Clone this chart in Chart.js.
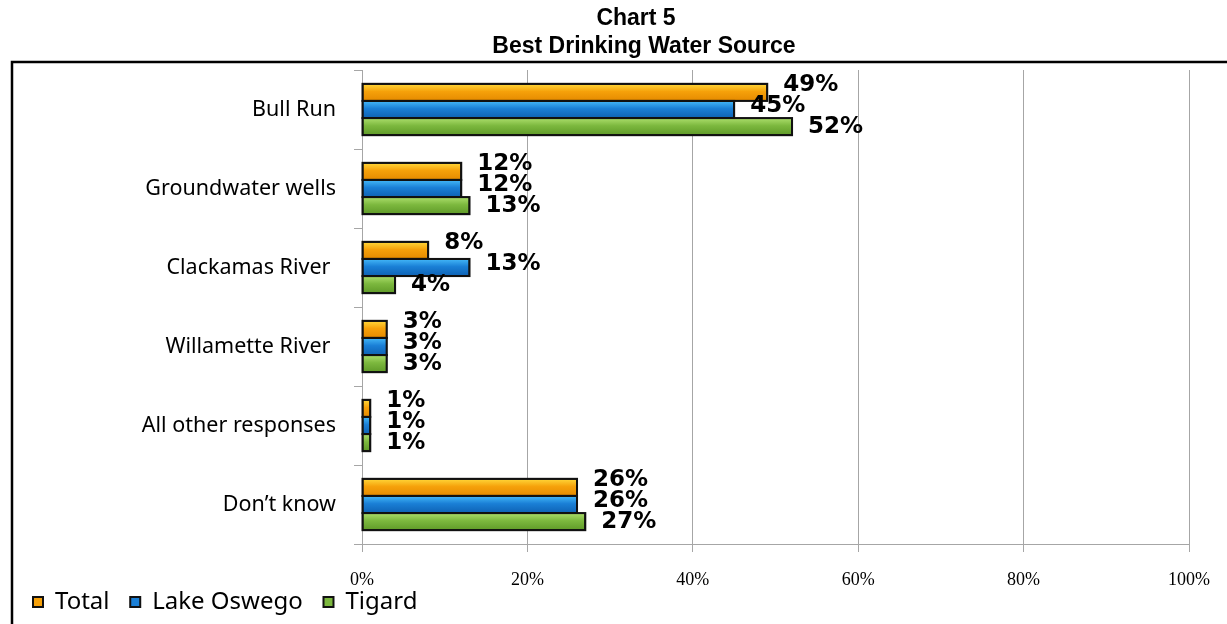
<!DOCTYPE html>
<html>
<head>
<meta charset="utf-8">
<script src="https://cdn.jsdelivr.net/npm/chart.js@4.4.0/dist/chart.umd.min.js"></script>
<style>
  body { margin: 0; background: #fff; }
  canvas { display: block; }
</style>
</head>
<body>
<canvas id="waterChart" width="1227" height="624"></canvas>
<script>
const categories = ["Bull Run", "Groundwater wells", "Clackamas River ", "Willamette River ", "All other responses", "Don\u2019t know"];
const seriesNames = ["Total", "Lake Oswego", "Tigard"];
const totalValues = [49, 12, 8, 3, 1, 26];
const lakeOswegoValues = [45, 12, 13, 3, 1, 26];
const tigardValues = [52, 13, 4, 3, 1, 27];
const xTicks = [0, 20, 40, 60, 80, 100];
const titleLines = ["Chart 5", "Best Drinking Water Source"];

// base colour, light top, dark bottom
const shades = [
  ["#f6a10a", "#ffd83a", "#e58a00"],
  ["#1a7fd6", "#44b8f8", "#0e62b4"],
  ["#7cb83e", "#acde6c", "#5f9a28"]
];

const frameAndTitle = {
  id: "frameAndTitle",
  beforeDraw(chart) {
    const ctx = chart.ctx;
    ctx.save();
    ctx.fillStyle = "#fff";
    ctx.fillRect(0, 0, chart.width, chart.height);
    ctx.fillStyle = "#000";
    ctx.font = 'bold 23px "Liberation Sans", Arial, sans-serif';
    ctx.textAlign = "center";
    ctx.textBaseline = "middle";
    ctx.fillText(titleLines[0], 636, 19);
    ctx.fillText(titleLines[1], 644, 47);
    ctx.lineWidth = 2.5;
    ctx.strokeStyle = "#000";
    ctx.strokeRect(12, 62, 1400, 800);
    ctx.restore();
  }
};

const barStyle = {
  id: "barStyle",
  beforeDatasetsDraw(chart) {
    const ctx = chart.ctx;
    ctx.save();
    ctx.shadowColor = "rgba(0,0,0,0.4)";
    ctx.shadowOffsetX = 3;
    ctx.shadowOffsetY = 5;
    ctx.shadowBlur = 6;
  },
  afterDatasetsDraw(chart) {
    const ctx = chart.ctx;
    ctx.restore();
    ctx.save();
    chart.data.datasets.forEach((ds, di) => {
      const meta = chart.getDatasetMeta(di);
      meta.data.forEach((bar, i) => {
        const p = bar.getProps(["x", "y", "base", "height"], true);
        const top = p.y - p.height / 2;
        const g = ctx.createLinearGradient(0, top, 0, top + p.height);
        g.addColorStop(0, shades[di][1]);
        g.addColorStop(0.45, shades[di][0]);
        g.addColorStop(1, shades[di][2]);
        ctx.fillStyle = g;
        ctx.fillRect(p.base + 1, top + 1, p.x - p.base - 2, p.height - 2);
        ctx.lineWidth = 2;
        ctx.strokeStyle = "#111";
        ctx.strokeRect(p.base, top, p.x - p.base, p.height);

        ctx.fillStyle = "#000";
        ctx.font = 'bold 23px "DejaVu Sans", Verdana, sans-serif';
        ctx.textAlign = "left";
        ctx.textBaseline = "middle";
        ctx.fillText(ds.data[i] + "%", p.x + 16, p.y + (di - 2) * 3.5);
      });
    });
    ctx.restore();
  }
};

function makeDataset(name, values, di) {
  return {
    label: name,
    data: values,
    backgroundColor: shades[di][0],
    borderColor: "#111",
    borderWidth: 2,
    borderSkipped: false
  };
}

new Chart(document.getElementById("waterChart"), {
  type: "bar",
  data: {
    labels: categories,
    datasets: [
      makeDataset(seriesNames[0], totalValues, 0),
      makeDataset(seriesNames[1], lakeOswegoValues, 1),
      makeDataset(seriesNames[2], tigardValues, 2)
    ]
  },
  options: {
    indexAxis: "y",
    responsive: false,
    animation: false,
    devicePixelRatio: 1,
    categoryPercentage: 0.65,
    barPercentage: 1.0,
    layout: { padding: { top: 70, left: 31, right: 33, bottom: 0 } },
    scales: {
      x: {
        min: xTicks[0],
        max: xTicks[xTicks.length - 1],
        afterFit: (s) => { s.height = 44; },
        grid: { color: "#a6a6a6", tickLength: 8 },
        border: { color: "#a6a6a6" },
        ticks: {
          stepSize: xTicks[1] - xTicks[0],
          autoSkip: false,
          callback: (v) => v + "%",
          color: "#000",
          padding: 17,
          maxRotation: 0,
          font: { family: '"Liberation Serif", "Times New Roman", serif', size: 18 }
        }
      },
      y: {
        afterFit: (s) => { s.width = 331; },
        grid: { drawOnChartArea: false, offset: true, color: "#a6a6a6", tickLength: 8 },
        border: { color: "#a6a6a6" },
        ticks: {
          color: "#000",
          padding: 18,
          font: { family: '"Noto Sans", Tahoma, sans-serif', size: 21.5 }
        }
      }
    },
    plugins: {
      title: { display: false },
      tooltip: { enabled: false },
      legend: {
        position: "bottom",
        align: "start",
        labels: {
          boxWidth: 10,
          boxHeight: 10,
          padding: 2,
          color: "#000",
          font: { family: '"Noto Sans", Tahoma, sans-serif', size: 24 },
          // keep the gap between legend entries wide without a tall legend box
          generateLabels: (chart) =>
            Chart.defaults.plugins.legend.labels.generateLabels(chart).map((item) => ({ ...item, text: item.text + "   " }))
        }
      }
    }
  },
  plugins: [frameAndTitle, barStyle]
});
</script>
</body>
</html>
